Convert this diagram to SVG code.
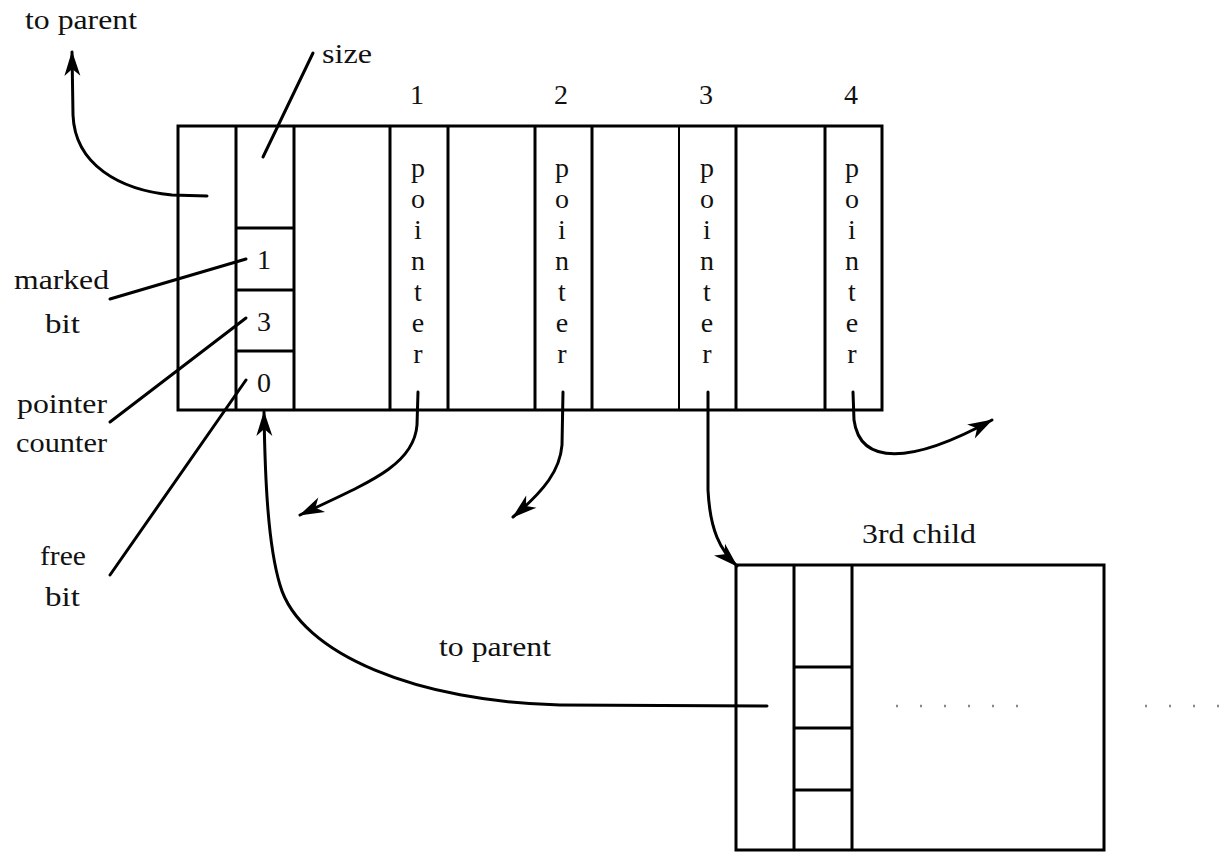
<svg xmlns="http://www.w3.org/2000/svg" width="1219" height="852" viewBox="0 0 1219 852">
<style>
.t{font-family:"Liberation Serif","Times New Roman",Times,serif;font-size:28px;fill:#111}
.c{text-anchor:middle}
.b{fill:none;stroke:#000;stroke-width:3}
.thin{stroke-width:2}
.cn{fill:none;stroke:#000;stroke-width:3;stroke-linecap:round}
.ar{marker-end:url(#ah)}
</style>
<defs>
<marker id="ah" markerUnits="userSpaceOnUse" viewBox="-26 -9 28 18" refX="0" refY="0" markerWidth="28" markerHeight="18" orient="auto">
<path d="M1,0 L-24,-8 L-17,0 L-24,8 Z" fill="#000"/>
</marker>
</defs>
<rect width="1219" height="852" fill="#fff"/>

<g id="main-node">
<rect class="b" x="178" y="126" width="704" height="284"/>
<line class="b" x1="236" y1="126" x2="236" y2="410"/>
<line class="b" x1="294" y1="126" x2="294" y2="410"/>
<line class="b" x1="390" y1="126" x2="390" y2="410"/>
<line class="b" x1="448" y1="126" x2="448" y2="410"/>
<line class="b" x1="535" y1="126" x2="535" y2="410"/>
<line class="b" x1="592" y1="126" x2="592" y2="410"/>
<line class="b thin" x1="679" y1="126" x2="679" y2="410"/>
<line class="b" x1="736" y1="126" x2="736" y2="410"/>
<line class="b" x1="825" y1="126" x2="825" y2="410"/>
<line class="b" x1="236" y1="228" x2="294" y2="228"/>
<line class="b" x1="236" y1="290" x2="294" y2="290"/>
<line class="b" x1="236" y1="351" x2="294" y2="351"/>
<text class="t c" x="264" y="269">1</text>
<text class="t c" x="264" y="331">3</text>
<text class="t c" x="264" y="392">0</text>
<g class="t c">
<text x="418" y="177">p</text><text x="418" y="208">o</text><text x="418" y="239">i</text><text x="418" y="270">n</text><text x="418" y="301">t</text><text x="418" y="332">e</text><text x="418" y="363">r</text>
<text x="562" y="177">p</text><text x="562" y="208">o</text><text x="562" y="239">i</text><text x="562" y="270">n</text><text x="562" y="301">t</text><text x="562" y="332">e</text><text x="562" y="363">r</text>
<text x="707" y="177">p</text><text x="707" y="208">o</text><text x="707" y="239">i</text><text x="707" y="270">n</text><text x="707" y="301">t</text><text x="707" y="332">e</text><text x="707" y="363">r</text>
<text x="852" y="177">p</text><text x="852" y="208">o</text><text x="852" y="239">i</text><text x="852" y="270">n</text><text x="852" y="301">t</text><text x="852" y="332">e</text><text x="852" y="363">r</text>
</g>
<text class="t c" x="417" y="104">1</text>
<text class="t c" x="561" y="104">2</text>
<text class="t c" x="706" y="104">3</text>
<text class="t c" x="851" y="104">4</text>
</g>

<g id="child-node">
<rect class="b" x="736" y="565" width="368" height="285"/>
<line class="b thin" x1="1104" y1="565" x2="1104" y2="850"/>
<line class="b" x1="794" y1="565" x2="794" y2="850"/>
<line class="b" x1="852" y1="565" x2="852" y2="850"/>
<line class="b" x1="794" y1="667" x2="852" y2="667"/>
<line class="b" x1="794" y1="728" x2="852" y2="728"/>
<line class="b" x1="794" y1="790" x2="852" y2="790"/>
<text class="t" x="862" y="543" textLength="114" lengthAdjust="spacingAndGlyphs">3rd child</text>
<line x1="896" y1="706" x2="1020" y2="706" stroke="#888" stroke-width="2.5" stroke-dasharray="2 22"/>
<line x1="1145" y1="706" x2="1219" y2="706" stroke="#888" stroke-width="2.5" stroke-dasharray="2 22"/>
</g>

<g id="labels">
<text class="t" x="25" y="29" textLength="112" lengthAdjust="spacingAndGlyphs">to parent</text>
<text class="t" x="322" y="63" textLength="50" lengthAdjust="spacingAndGlyphs">size</text>
<text class="t" x="14" y="289" textLength="95" lengthAdjust="spacingAndGlyphs">marked</text>
<text class="t" x="45" y="333" textLength="35" lengthAdjust="spacingAndGlyphs">bit</text>
<text class="t" x="17" y="413" textLength="90" lengthAdjust="spacingAndGlyphs">pointer</text>
<text class="t" x="16" y="452" textLength="91" lengthAdjust="spacingAndGlyphs">counter</text>
<text class="t" x="40" y="565" textLength="46" lengthAdjust="spacingAndGlyphs">free</text>
<text class="t" x="45" y="606" textLength="35" lengthAdjust="spacingAndGlyphs">bit</text>
<text class="t" x="439" y="656" textLength="112" lengthAdjust="spacingAndGlyphs">to parent</text>
</g>

<g id="connectors">
<path class="cn ar" d="M207,196 L172,195 C120,190 75,165 73,115 L72,52"/>
<path class="cn" d="M263,157 L313,53"/>
<path class="cn" d="M110,299 L246,259"/>
<path class="cn" d="M110,422 L246,318"/>
<path class="cn" d="M110,575 L246,380"/>
<path class="cn ar" d="M418,392 L417,425 C414,465 370,482 300,515"/>
<path class="cn ar" d="M563,392 L562,445 C560,470 545,490 513,517"/>
<path class="cn ar" d="M708,392 L708,490 C710,530 720,550 737,566"/>
<path class="cn ar" d="M853,392 L854,420 C860,465 910,465 992,420"/>
<path class="cn ar" d="M767,706 L560,705 C420,702 300,655 280,585 C268,545 265,480 264,412"/>
</g>
</svg>
